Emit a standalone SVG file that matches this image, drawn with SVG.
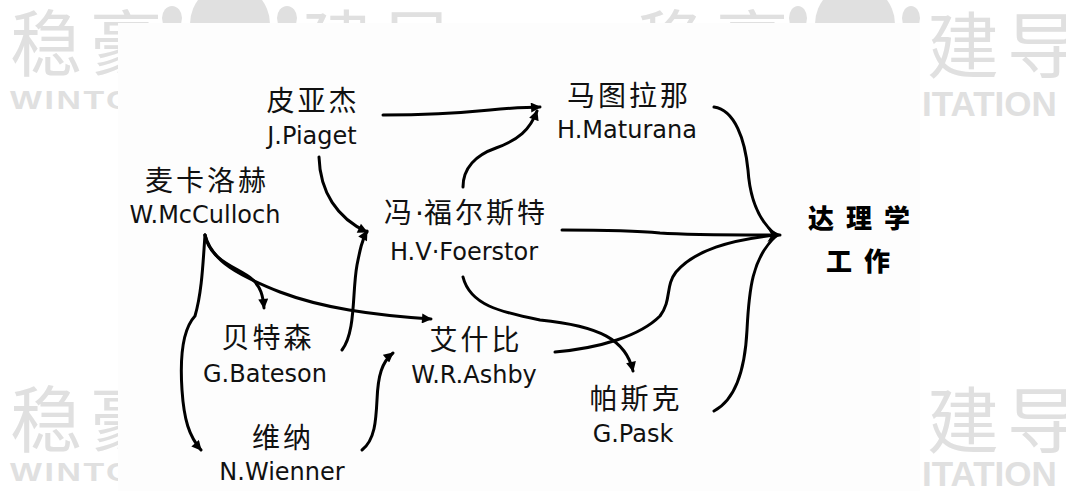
<svg xmlns="http://www.w3.org/2000/svg" width="1066" height="491" viewBox="0 0 1066 491">
<defs>
<style>
.wm{fill:#e0e0e0;font-family:"Noto Sans CJK SC",sans-serif;font-size:72px;letter-spacing:8px}
.wml{fill:#e0e0e0;font-family:"Liberation Sans",Arial,sans-serif;font-weight:bold}
.cn{font-family:"Noto Sans CJK SC",sans-serif;font-size:28px;letter-spacing:3px;fill:#111;text-anchor:middle}
.dot{font-family:"DejaVu Sans",Verdana,sans-serif;letter-spacing:0px}
.en{font-family:"DejaVu Sans",Verdana,sans-serif;font-size:24px;fill:#111;text-anchor:middle}
.goal{font-family:"Noto Sans CJK SC",sans-serif;font-size:26px;font-weight:900;letter-spacing:12px;fill:#000;text-anchor:middle}
.c{fill:none;stroke:#000;stroke-width:3;stroke-linecap:round}
</style>
<marker id="ah" viewBox="0 0 10 10" refX="9" refY="5" markerWidth="11" markerHeight="10" markerUnits="userSpaceOnUse" orient="auto">
<path d="M0,0 L10,5 L0,10 z" fill="#000"/>
</marker>
<marker id="ahb" viewBox="0 0 10 10" refX="9" refY="5" markerWidth="14" markerHeight="18" markerUnits="userSpaceOnUse" orient="auto">
<path d="M0,0 L10,5 L0,10 L3,5 z" fill="#000"/>
</marker>
</defs>
<rect x="0" y="0" width="1066" height="491" fill="#ffffff"/>
<g id="watermark">
<text class="wm" x="10" y="70">稳豪</text>
<text class="wm" x="302" y="70">建导</text>
<text class="wm" x="636" y="70">稳豪</text>
<text class="wm" x="927" y="72">建导</text>
<text class="wm" x="10" y="446">稳豪</text>
<text class="wm" x="927" y="447">建导</text>
<ellipse cx="172" cy="18" rx="10" ry="12" fill="#e0e0e0"/>
<circle cx="230" cy="24" r="40" fill="#e0e0e0"/>
<ellipse cx="287" cy="18" rx="10" ry="12" fill="#e0e0e0"/>
<ellipse cx="798" cy="18" rx="9" ry="12" fill="#e0e0e0"/>
<circle cx="855" cy="24" r="40" fill="#e0e0e0"/>
<ellipse cx="911" cy="18" rx="9" ry="12" fill="#e0e0e0"/>
<text class="wml" font-size="26" letter-spacing="2" transform="translate(10,109) scale(1.3,1)">WINTO</text>
<text class="wml" font-size="26" letter-spacing="2" transform="translate(10,481) scale(1.3,1)">WINTO</text>
<text class="wml" font-size="35" x="922" y="116">ITATION</text>
<text class="wml" font-size="35" x="922" y="486">ITATION</text>
</g>
<rect x="118" y="23" width="802" height="468" fill="#fdfdfd"/>
<g id="connectors">
<path class="c" marker-end="url(#ah)" d="M383,115 C430,115 460,113 490,110 S525,108 540,107"/>
<path class="c" marker-end="url(#ah)" d="M463,187 C463,168 476,155 496,148 C518,140 530,130 537,111"/>
<path class="c" marker-end="url(#ah)" d="M319,157 C320,192 337,218 367,232"/>
<path class="c" marker-end="url(#ah)" d="M342,350 C356,332 352,292 357,265 C360,250 362,240 367,231"/>
<path class="c" marker-end="url(#ah)" d="M205,235 C210,262 240,268 252,279 C261,287 263,296 264,308"/>
<path class="c" marker-end="url(#ah)" d="M205,235 C212,262 240,276 280,292 C322,308 372,315 431,319"/>
<path class="c" marker-end="url(#ah)" d="M205,235 C203,262 202,292 195,316 C182,330 180,360 182,390 C184,420 189,436 201,450"/>
<path class="c" marker-end="url(#ah)" d="M362,450 C375,440 376,420 377,400 C378,375 382,362 393,353"/>
<path class="c" marker-end="url(#ah)" d="M463,277 C470,305 500,312 540,320 C600,326 626,340 633,371"/>
<path class="c" d="M555,352 C600,348 640,336 660,316 C672,300 665,286 676,272 C695,250 730,240 776,235"/>
<path class="c" d="M714,107 C735,110 745,140 748,170 C750,200 760,222 776,235"/>
<path class="c" d="M714,411 C735,400 745,370 747,330 C749,290 752,258 776,236"/>
<path class="c" marker-end="url(#ahb)" d="M562,230 C600,230 640,231 660,233 C690,235 740,235 780,235"/>
</g>
<g id="node-piaget"><text class="cn" x="313" y="111">皮亚杰</text><text class="en" x="312" y="144">J.Piaget</text></g>
<g id="node-maturana"><text class="cn" x="629" y="106">马图拉那</text><text class="en" x="627" y="138">H.Maturana</text></g>
<g id="node-mcculloch"><text class="cn" x="207" y="191">麦卡洛赫</text><text class="en" x="205" y="223">W.McCulloch</text></g>
<g id="node-foerster"><text class="cn" x="466" y="223">冯<tspan class="dot">·</tspan>福尔斯特</text><text class="en" x="464" y="260">H.V·Foerstor</text></g>
<g id="node-bateson"><text class="cn" x="268" y="348">贝特森</text><text class="en" x="265" y="382">G.Bateson</text></g>
<g id="node-ashby"><text class="cn" x="476" y="350">艾什比</text><text class="en" x="474" y="383">W.R.Ashby</text></g>
<g id="node-wiener"><text class="cn" x="283" y="448">维纳</text><text class="en" x="282" y="480">N.Wienner</text></g>
<g id="node-pask"><text class="cn" x="636" y="409">帕斯克</text><text class="en" x="633" y="442">G.Pask</text></g>
<g id="node-goal"><text class="goal" x="865" y="228">达理学</text><text class="goal" x="864" y="271">工作</text></g>
</svg>
